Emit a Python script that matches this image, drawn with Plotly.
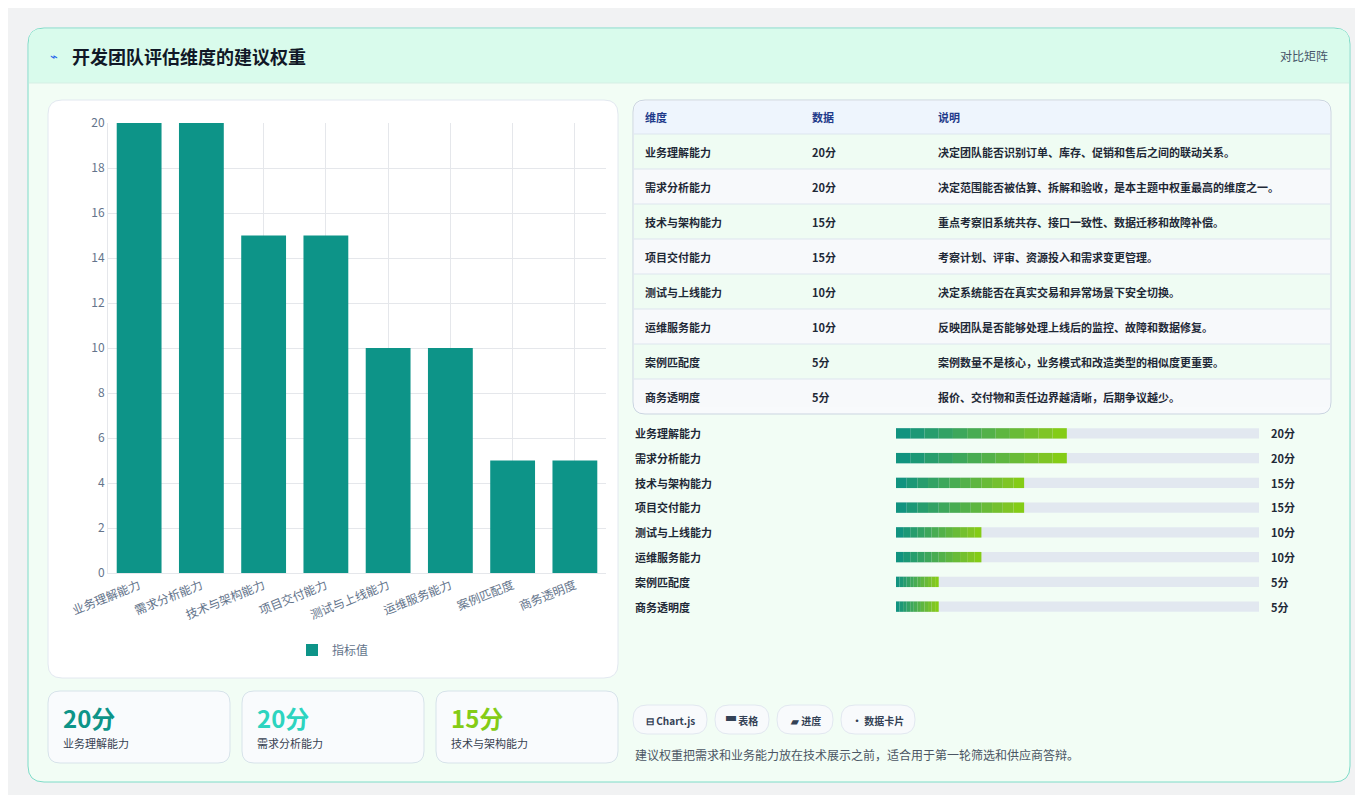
import plotly.graph_objects as go

W, H = 1363, 795

dims = ["业务理解能力", "需求分析能力", "技术与架构能力", "项目交付能力",
        "测试与上线能力", "运维服务能力", "案例匹配度", "商务透明度"]
scores = [20, 20, 15, 15, 10, 10, 5, 5]
notes = ["决定团队能否识别订单、库存、促销和售后之间的联动关系。",
         "决定范围能否被估算、拆解和验收，是本主题中权重最高的维度之一。",
         "重点考察旧系统共存、接口一致性、数据迁移和故障补偿。",
         "考察计划、评审、资源投入和需求变更管理。",
         "决定系统能否在真实交易和异常场景下安全切换。",
         "反映团队是否能够处理上线后的监控、故障和数据修复。",
         "案例数量不是核心，业务模式和改造类型的相似度更重要。",
         "报价、交付物和责任边界越清晰，后期争议越少。"]
tags = ["⊟ Chart.js", "▀ 表格", "▰ 进度", "• 数据卡片"]
kpi_colors = ["#0d9488", "#2dd4bf", "#84cc16"]
grad = ["#11937f", "#1c9876", "#279d6d", "#32a264", "#3da75b", "#48ac52",
        "#53b149", "#5eb640", "#69bb37", "#74c02e", "#7fc525", "#84cc16"]

FONT = "Noto Sans CJK SC"


def px(x):
    return x / W


def py(y):
    return 1 - y / H


def rrect(x0, y0, x1, y1, r, fill, line="rgba(0,0,0,0)", lw=1):
    X0, X1 = px(x0), px(x1)
    Y0, Y1 = py(y1), py(y0)
    rx, ry = r / W, r / H
    path = (f"M{X0+rx},{Y0} L{X1-rx},{Y0} Q{X1},{Y0} {X1},{Y0+ry} "
            f"L{X1},{Y1-ry} Q{X1},{Y1} {X1-rx},{Y1} L{X0+rx},{Y1} "
            f"Q{X0},{Y1} {X0},{Y1-ry} L{X0},{Y0+ry} Q{X0},{Y0} {X0+rx},{Y0} Z")
    return dict(type="path", path=path, xref="paper", yref="paper",
                fillcolor=fill, line=dict(color=line, width=lw), layer="below")


def text(x, y, s, size=12, color="#1f2937", bold=False, xanchor="left"):
    if bold:
        s = f"<b>{s}</b>"
    return dict(x=px(x), y=py(y), xref="paper", yref="paper", text=s,
                showarrow=False, xanchor=xanchor, yanchor="middle",
                font=dict(size=size, color=color, family=FONT))


shapes = [
    rrect(20, 20, 1342, 774, 16, "#f2fdf5", "#7fdcc8", 1),
    dict(type="path", xref="paper", yref="paper", layer="below",
         path=f"M{px(21)},{py(75)} L{px(1341)},{py(75)} L{px(1341)},{py(34)} "
              f"Q{px(1341)},{py(21)} {px(1328)},{py(21)} L{px(34)},{py(21)} "
              f"Q{px(21)},{py(21)} {px(21)},{py(34)} Z",
         fillcolor="#d9fbec", line=dict(width=0)),
    dict(type="line", xref="paper", yref="paper", x0=px(21), x1=px(1341),
         y0=py(75), y1=py(75), line=dict(color="#d5efe5", width=1)),
    rrect(40, 92, 610, 670, 14, "#ffffff", "#e2e8f0"),
    rrect(625, 92, 1323, 406, 12, "#f8fafc", "#cbd5e1"),
]
ann = [
    text(40, 48, "⌁", 13, "#2563eb"),
    text(62, 48, "开发团队评估维度的建议权重", 18, "#111827", True),
    text(1322, 48, "对比矩阵", 12, "#475569", xanchor="right"),
]

# table
shapes.append(dict(type="path", xref="paper", yref="paper", layer="below",
                   path=f"M{px(626)},{py(126)} L{px(1322)},{py(126)} L{px(1322)},{py(104)} "
                        f"Q{px(1322)},{py(93)} {px(1310)},{py(93)} L{px(638)},{py(93)} "
                        f"Q{px(626)},{py(93)} {px(626)},{py(104)} Z",
                   fillcolor="#eef5fd", line=dict(width=0)))
ann += [text(635, 109, "维度", 11, "#1e3a8a", True),
        text(802, 109, "数据", 11, "#1e3a8a", True),
        text(928, 109, "说明", 11, "#1e3a8a", True)]
for i, (d, s, n) in enumerate(zip(dims, scores, notes)):
    y0 = 126 + 35 * i
    shapes.append(dict(type="rect", xref="paper", yref="paper", layer="below",
                       x0=px(626), x1=px(1322), y0=py(y0), y1=py(y0 + 35 if i < 7 else y0 + 28),
                       fillcolor="#effcf3" if i % 2 == 0 else "#f7f9fb", line=dict(width=0)))
    shapes.append(dict(type="line", xref="paper", yref="paper", x0=px(626), x1=px(1322),
                       y0=py(y0), y1=py(y0), line=dict(color="#dde5ee", width=1)))
    yc = y0 + 18
    ann += [text(635, yc, d, 11, "#1f2937", True),
            text(802, yc, f"{s}分", 11, "#1f2937", True),
            text(928, yc, n, 11, "#1f2937", True)]

# progress labels
for i, (d, s) in enumerate(zip(dims, scores)):
    yc = 425 + 24.8 * i
    ann.append(text(625, yc, d, 11, "#1f2937", True))
    ann.append(text(1261, yc, f"{s}分", 11, "#1f2937", True))

# KPI cards
for i in range(3):
    x0 = 40 + 194 * i
    shapes.append(rrect(x0, 683, x0 + 182, 755, 12, "#f9fbfd", "#d7e3ea"))
    ann.append(text(x0 + 13, 709, f"{scores[i]}分", 24, kpi_colors[i], True))
    ann.append(text(x0 + 13, 735, dims[i], 11, "#374151"))

# tags
tag_x = [(625, 699), (707, 761), (769, 825), (833, 907)]
for (a, b), t in zip(tag_x, tags):
    shapes.append(rrect(a, 697, b, 726, 14, "#f8fafc", "#e2e8f0"))
    ann.append(text((a + b) / 2, 712, t, 10, "#334155", True, xanchor="center"))
ann.append(text(625, 746, "建议权重把需求和业务能力放在技术展示之前，适合用于第一轮筛选和供应商答辩。", 12, "#4b5563"))

fig = go.Figure()
fig.add_trace(go.Bar(x=dims, y=scores, name="指标值", marker=dict(color="#0d9488", line=dict(width=0)),
                     width=0.72, xaxis="x", yaxis="y"))

# progress bars: track + gradient segments
fig.add_trace(go.Bar(y=dims, x=[42.5] * len(dims), orientation="h", marker=dict(color="#e2e8f0", line=dict(width=0)),
                     width=0.42, xaxis="x2", yaxis="y2", showlegend=False, hoverinfo="skip"))
for k, c in enumerate(grad):
    fig.add_trace(go.Bar(y=dims, x=[s / len(grad) for s in scores], base=[s * k / len(grad) for s in scores],
                         orientation="h", marker=dict(color=c, line=dict(width=0)), width=0.42,
                         xaxis="x2", yaxis="y2", showlegend=False, hoverinfo="skip"))

fig.update_layout(
    width=W, height=H, margin=dict(l=0, r=0, t=0, b=0, autoexpand=False),
    paper_bgcolor="#f1f2f3", plot_bgcolor="rgba(0,0,0,0)",
    barmode="overlay", shapes=shapes, annotations=ann,
    font=dict(family=FONT, color="#64748b"),
    xaxis=dict(domain=[px(100), px(598)], tickangle=-22, tickfont=dict(size=12, color="#64748b"),
               showgrid=True, gridcolor="#e5e7eb", showline=True, linecolor="#e5e7eb", ticks="",
               automargin=False),
    yaxis=dict(domain=[py(565), py(115)], range=[0, 20], dtick=2, gridcolor="#e5e7eb",
               tickfont=dict(size=12, color="#64748b"), zeroline=False, ticks="",
               showline=True, linecolor="#e5e7eb", automargin=False),
    xaxis2=dict(domain=[px(888), px(1251)], range=[0, 42.5], visible=False, anchor="y2"),
    yaxis2=dict(domain=[py(611), py(413)], autorange="reversed", visible=False, anchor="x2"),
    legend=dict(x=px(325), y=py(642), xanchor="center", yanchor="middle", orientation="h",
                font=dict(size=12, color="#64748b"), bgcolor="rgba(0,0,0,0)"),
)
fig.write_html("out.html")
